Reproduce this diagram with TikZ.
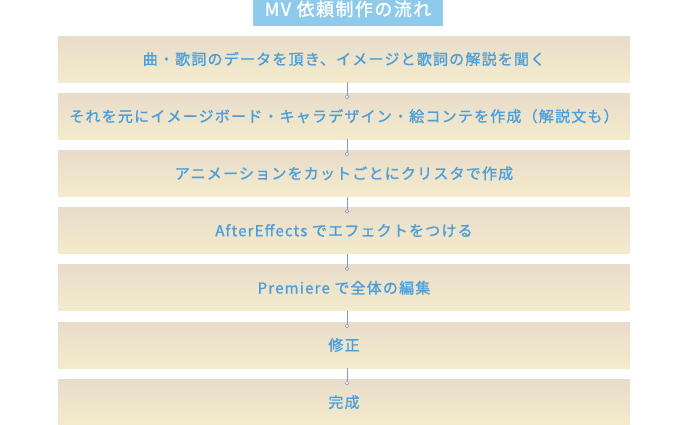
\documentclass[tikz,border=0pt]{standalone}
\usepackage{fontspec}
\newfontfamily\jp[LetterSpace=8,FakeBold=1.2]{Noto Sans CJK JP}
\newfontfamily\jptitle[LetterSpace=8,FakeBold=1.2]{Noto Sans CJK JP}
\definecolor{titlebg}{HTML}{8ECBEA}
\definecolor{steptext}{HTML}{4A9FDA}
\definecolor{boxtop}{HTML}{E8DCCA}
\definecolor{boxbot}{HTML}{F4EBCC}
\definecolor{conncol}{HTML}{8597D4}
\tikzset{
  stepbox/.style={rectangle, minimum width=572pt, minimum height=46pt, inner sep=0pt,
    top color=boxtop, bottom color=boxbot, draw=none,
    text=steptext, font=\jp\fontsize{15}{18}\selectfont},
  titlebox/.style={rectangle, fill=titlebg, minimum width=190pt, minimum height=26pt, inner sep=0pt},
  conn/.style={draw=conncol, line width=1pt},
  dot/.style={circle, draw=conncol!70!gray, fill=white, line width=0.5pt, minimum size=3.8pt, inner sep=0pt}
}
\begin{document}
\begin{tikzpicture}[x=1pt,y=-1pt]
\useasboundingbox (0,0) rectangle (688,424);
\node[titlebox] (title) at (348,13) {};
\node[text=white, font=\jptitle\fontsize{18}{21}\selectfont, inner sep=0pt] (titletext) at (348,9) {MV 依頼制作の流れ};
\node[stepbox] (b0) at (344,59) {曲・歌詞のデータを頂き、イメージと歌詞の解説を聞く};
\node[stepbox] (b1) at (344,116.2) {それを元にイメージボード・キャラデザイン・絵コンテを作成（解説文も）};
\node[stepbox] (b2) at (344,173.4) {アニメーションをカットごとにクリスタで作成};
\node[stepbox] (b3) at (344,230.6) {AfterEffects でエフェクトをつける};
\node[stepbox] (b4) at (344,287.8) {Premiere で全体の編集};
\node[stepbox] (b5) at (344,345) {修正};
\node[stepbox] (b6) at (344,402.2) {完成};
\foreach \a/\b in {b0/b1,b1/b2,b2/b3,b3/b4,b4/b5,b5/b6}{
  \draw[conn] ([xshift=3pt]\a.south) -- ([xshift=3pt,yshift=-2pt]\b.north);
  \node[dot] at ([xshift=3pt,yshift=-4pt]\b.north) {};
}
\end{tikzpicture}
\end{document}
